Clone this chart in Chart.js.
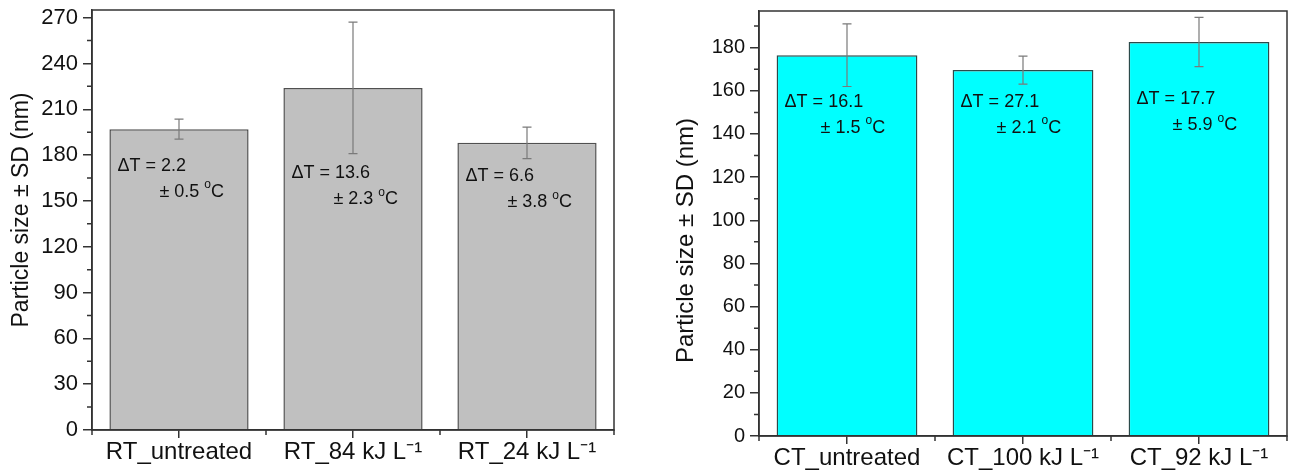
<!DOCTYPE html>
<html>
<head>
<meta charset="utf-8">
<script src="https://cdn.jsdelivr.net/npm/chart.js@4/dist/chart.umd.min.js"></script>
<style>
  body { margin: 0; background: #fff; }
  #wrap { position: relative; width: 1296px; height: 472px; }
  .box { position: absolute; top: 0; height: 472px; }
  #leftBox { left: 0; width: 630px; }
  #rightBox { left: 640px; width: 656px; }
</style>
</head>
<body>
<div id="wrap">
  <div class="box" id="leftBox"><canvas id="chartRT"></canvas></div>
  <div class="box" id="rightBox"><canvas id="chartCT"></canvas></div>
</div>
<script>
// left panel (RT)
const rtLabels = ['RT_untreated', 'RT_84 kJ L⁻¹', 'RT_24 kJ L⁻¹'];
const rtSize = [197, 224, 188];
const rtSD = [6.5, 43, 10.3];
const rtDeltaT = ['2.2', '13.6', '6.6'];
const rtDeltaSD = ['0.5', '2.3', '3.8'];
const rtNoteY = [173, 168, 166];

// right panel (CT)
const ctLabels = ['CT_untreated', 'CT_100 kJ L⁻¹', 'CT_92 kJ L⁻¹'];
const ctSize = [176.5, 169.6, 182.6];
const ctSD = [14.5, 6.5, 11.4];
const ctDeltaT = ['16.1', '27.1', '17.7'];
const ctDeltaSD = ['1.5', '2.1', '5.9'];
const ctNoteY = [155, 155, 156];

const yTitle = 'Particle size ± SD (nm)';

const FONT = '"Liberation Sans", Arial, sans-serif';
Chart.defaults.font.family = FONT;
Chart.defaults.color = '#111';

const AXIS = '#333';

// error bars, notes, minor ticks, axis title and the closing frame
const extras = {
  id: 'extras',
  afterDatasetsDraw(chart, args, opts) {
    const ctx = chart.ctx;
    const y = chart.scales.y;
    const meta = chart.getDatasetMeta(0);
    const vals = chart.data.datasets[0].data;

    ctx.save();
    meta.data.forEach((bar, i) => {
      const top = y.getPixelForValue(vals[i] + opts.sd[i]);
      const bot = y.getPixelForValue(vals[i] - opts.sd[i]);
      ctx.strokeStyle = '#7a7a7a';
      ctx.lineWidth = 1.2;
      ctx.beginPath();
      ctx.moveTo(bar.x, top); ctx.lineTo(bar.x, bot);
      ctx.moveTo(bar.x - 4.5, top); ctx.lineTo(bar.x + 4.5, top);
      ctx.moveTo(bar.x - 4.5, bot); ctx.lineTo(bar.x + 4.5, bot);
      ctx.stroke();

      // delta T note inside the bar
      const left = bar.x - bar.width / 2;
      const ny = y.getPixelForValue(opts.noteY[i]);
      ctx.fillStyle = '#111';
      ctx.textBaseline = 'middle';
      ctx.textAlign = 'left';
      ctx.font = '18px ' + FONT;
      ctx.fillText('ΔT = ' + opts.dt[i], left + 8, ny);
      let tx = left + opts.indent;
      const ty = ny + 26;
      const s1 = '± ' + opts.dsd[i] + ' ';
      ctx.fillText(s1, tx, ty);
      tx += ctx.measureText(s1).width;
      ctx.font = '12px ' + FONT;
      ctx.fillText('o', tx, ty - 7);
      tx += ctx.measureText('o').width;
      ctx.font = '18px ' + FONT;
      ctx.fillText('C', tx, ty);
    });
    ctx.restore();
  },
  afterDraw(chart, args, opts) {
    const ctx = chart.ctx;
    const a = chart.chartArea;
    const y = chart.scales.y;
    const x = chart.scales.x;
    ctx.save();
    ctx.strokeStyle = AXIS;
    ctx.lineWidth = 1.5;
    ctx.strokeRect(a.left, a.top, a.right - a.left, a.bottom - a.top);
    ctx.beginPath();
    for (let v = opts.minor; v < y.max; v += opts.minor * 2) {
      const py = y.getPixelForValue(v);
      ctx.moveTo(a.left - 5, py); ctx.lineTo(a.left, py);
    }
    for (let i = 0; i <= chart.data.labels.length; i++) {
      const px = x.getPixelForValue(i - 0.5);
      ctx.moveTo(px, a.bottom); ctx.lineTo(px, a.bottom + 5);
    }
    ctx.stroke();

    // rotated y axis title
    ctx.translate(opts.titleX, (a.top + a.bottom) / 2 + opts.titleShift);
    ctx.rotate(-Math.PI / 2);
    ctx.fillStyle = '#111';
    ctx.textAlign = 'center';
    ctx.textBaseline = 'middle';
    ctx.font = opts.titleSize + 'px ' + FONT;
    ctx.fillText(yTitle, 0, 0);
    ctx.restore();
  }
};

function makeChart(id, labels, values, fill, edge, yMax, step, pad, yWidth, xHeight, tickSize, extra) {
  return new Chart(document.getElementById(id), {
    type: 'bar',
    data: {
      labels: labels,
      datasets: [{
        data: values,
        backgroundColor: fill,
        borderColor: edge,
        borderWidth: 1.5,
        categoryPercentage: 1,
        barPercentage: 0.8
      }]
    },
    options: {
      responsive: true,
      maintainAspectRatio: false,
      animation: false,
      layout: { padding: pad },
      plugins: {
        legend: { display: false },
        tooltip: { enabled: false },
        extras: extra
      },
      scales: {
        x: {
          grid: { offset: false, drawOnChartArea: false, drawTicks: true, tickLength: 8, color: AXIS, lineWidth: 1.5 },
          border: { color: AXIS, width: 1.5 },
          ticks: { color: '#111', font: { size: 24 }, padding: 0, maxRotation: 0, autoSkip: false },
          afterFit: s => { s.height = xHeight; s.paddingLeft = 0; s.paddingRight = 0; }
        },
        y: {
          min: 0,
          max: yMax,
          grid: { drawOnChartArea: false, drawTicks: true, tickLength: 9, color: AXIS, lineWidth: 1.5 },
          border: { color: AXIS, width: 1.5 },
          ticks: { stepSize: step, includeBounds: false, color: '#111', font: { size: tickSize }, padding: 5 },
          afterFit: s => { s.width = yWidth; s.paddingTop = 0; s.paddingBottom = 0; }
        }
      }
    },
    plugins: [extras]
  });
}

makeChart('chartRT', rtLabels, rtSize, '#c0c0c0', '#505050', 275, 30,
  { top: 10, right: 16, left: 0, bottom: 0 }, 92, 42, 22,
  { sd: rtSD, dt: rtDeltaT, dsd: rtDeltaSD, noteY: rtNoteY, indent: 50, minor: 15,
    titleX: 22, titleShift: -10, titleSize: 23 });

makeChart('chartCT', ctLabels, ctSize, '#00ffff', '#2b4a4a', 197, 20,
  { top: 11, right: 9, left: 0, bottom: 0 }, 119, 36, 20,
  { sd: ctSD, dt: ctDeltaT, dsd: ctDeltaSD, noteY: ctNoteY, indent: 44, minor: 10,
    titleX: 46, titleShift: 17, titleSize: 24 });
</script>
</body>
</html>
